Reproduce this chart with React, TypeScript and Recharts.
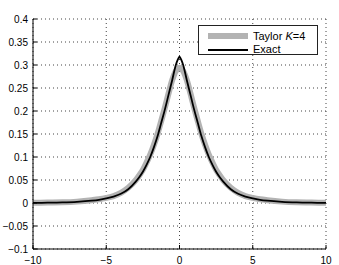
import React from "react";
import { LineChart, Line, XAxis, YAxis, CartesianGrid, Legend } from "recharts";

const xValues = [-10, -9, -8, -7, -6, -5.5, -5, -4.5, -4, -3.5, -3, -2.75, -2.5, -2.25, -2, -1.75, -1.5, -1.25, -1, -0.75, -0.5, -0.25, -0.125, 0,
  0.125, 0.25, 0.5, 0.75, 1, 1.25, 1.5, 1.75, 2, 2.25, 2.5, 2.75, 3, 3.5, 4, 4.5, 5, 5.5, 6, 7, 8, 9, 10];

const exactValues = [0.0003, 0.0006, 0.0012, 0.0025, 0.005, 0.007, 0.01, 0.014, 0.02, 0.03, 0.046, 0.056, 0.068, 0.083, 0.1, 0.121, 0.145, 0.174, 0.203, 0.235, 0.267, 0.3, 0.311, 0.318,
  0.311, 0.3, 0.267, 0.235, 0.203, 0.174, 0.145, 0.121, 0.1, 0.083, 0.068, 0.056, 0.046, 0.03, 0.02, 0.014, 0.01, 0.007, 0.005, 0.0025, 0.0012, 0.0006, 0.0003];

const taylorValues = [0.0005, 0.001, 0.0015, 0.003, 0.006, 0.008, 0.011, 0.015, 0.022, 0.033, 0.049, 0.06, 0.072, 0.088, 0.105, 0.126, 0.15, 0.178, 0.207, 0.238, 0.267, 0.287, 0.292, 0.294,
  0.292, 0.287, 0.267, 0.238, 0.207, 0.178, 0.15, 0.126, 0.105, 0.088, 0.072, 0.06, 0.049, 0.033, 0.022, 0.015, 0.011, 0.008, 0.006, 0.003, 0.0015, 0.001, 0.0005];

const xTicks = [-10, -5, 0, 5, 10];
const yTicks = [-0.1, -0.05, 0, 0.05, 0.1, 0.15, 0.2, 0.25, 0.3, 0.35, 0.4];

const data = xValues.map((x, i) => ({ x, exact: exactValues[i], taylor: taylorValues[i] }));

const FONT = "'Liberation Sans', Arial, Helvetica, sans-serif";
const fmt = (v: number) => (v < 0 ? "\u2212" + String(Math.abs(v)) : String(v));

const BottomTick = (props: any) => {
  const { x, y, payload } = props;
  return (
    <g>
      <line x1={x} y1={y} x2={x} y2={y - 4} stroke="#000" strokeWidth={1} />
      <text x={x} y={y + 14.5} textAnchor="middle" fontSize={10} fontFamily={FONT} fill="#000">
        {fmt(payload.value)}
      </text>
    </g>
  );
};

const LeftTick = (props: any) => {
  const { x, y, payload } = props;
  return (
    <g>
      <line x1={x} y1={y} x2={x + 4} y2={y} stroke="#000" strokeWidth={1} />
      <text x={x - 5} y={y + 3.5} textAnchor="end" fontSize={10} fontFamily={FONT} fill="#000">
        {fmt(payload.value)}
      </text>
    </g>
  );
};

const TopTick = (props: any) => {
  const { x, y } = props;
  return <line x1={x} y1={y} x2={x} y2={y + 4} stroke="#000" strokeWidth={1} />;
};

const RightTick = (props: any) => {
  const { x, y } = props;
  return <line x1={x} y1={y} x2={x - 4} y2={y} stroke="#000" strokeWidth={1} />;
};

const LegendBox = () => (
  <div
    style={{
      width: 118,
      height: 28,
      border: "1px solid #222",
      background: "#fff",
      position: "relative",
      fontFamily: FONT,
      fontSize: 11,
      color: "#000",
    }}
  >
    <div style={{ position: "absolute", left: 9, top: 7, width: 40, height: 6, background: "#b3b3b3" }} />
    <div style={{ position: "absolute", left: 54, top: 3.5, lineHeight: "13px" }}>
      Taylor <i>K</i>=4
    </div>
    <div style={{ position: "absolute", left: 9, top: 22.5, width: 40, height: 2, background: "#000" }} />
    <div style={{ position: "absolute", left: 54, top: 17, lineHeight: "13px" }}>Exact</div>
  </div>
);

export default function App() {
  return (
    <div style={{ position: "absolute", left: 0, top: 0, background: "#fff" }}>
      <LineChart width={339} height={265} data={data} margin={{ top: 19, right: 13, bottom: 0, left: 0 }}>
        <CartesianGrid stroke="#444" strokeDasharray="1 3" />
        <XAxis
          dataKey="x"
          type="number"
          domain={[-10, 10]}
          ticks={xTicks}
          allowDataOverflow
          height={16}
          tickSize={0}
          tickMargin={0}
          tickLine={false}
          axisLine={{ stroke: "#000", strokeWidth: 1 }}
          tick={<BottomTick />}
          interval={0}
        />
        <XAxis
          xAxisId="top"
          orientation="top"
          dataKey="x"
          type="number"
          domain={[-10, 10]}
          ticks={xTicks}
          allowDataOverflow
          height={0}
          tickSize={0}
          tickMargin={0}
          tickLine={false}
          axisLine={{ stroke: "#000", strokeWidth: 1 }}
          tick={<TopTick />}
          interval={0}
        />
        <YAxis
          type="number"
          domain={[-0.1, 0.4]}
          ticks={yTicks}
          allowDataOverflow
          width={33}
          tickSize={0}
          tickMargin={0}
          tickLine={false}
          axisLine={{ stroke: "#000", strokeWidth: 1 }}
          tick={<LeftTick />}
          interval={0}
        />
        <YAxis
          yAxisId="right"
          orientation="right"
          type="number"
          domain={[-0.1, 0.4]}
          ticks={yTicks}
          allowDataOverflow
          width={0}
          tickSize={0}
          tickMargin={0}
          tickLine={false}
          axisLine={{ stroke: "#000", strokeWidth: 1 }}
          tick={<RightTick />}
          interval={0}
        />
        <Line
          type="monotone"
          dataKey="taylor"
          stroke="#b3b3b3"
          strokeWidth={6}
          dot={false}
          activeDot={false}
          isAnimationActive={false}
          strokeLinejoin="round"
        />
        <Line
          type="monotone"
          dataKey="exact"
          stroke="#000"
          strokeWidth={1.8}
          dot={false}
          activeDot={false}
          isAnimationActive={false}
        />
        <Legend
          layout="horizontal"
          verticalAlign="middle"
          align="center"
          content={<LegendBox />}
          wrapperStyle={{ position: "absolute", top: 25, left: 198, width: 120, height: 30 }}
        />
      </LineChart>
    </div>
  );
}
